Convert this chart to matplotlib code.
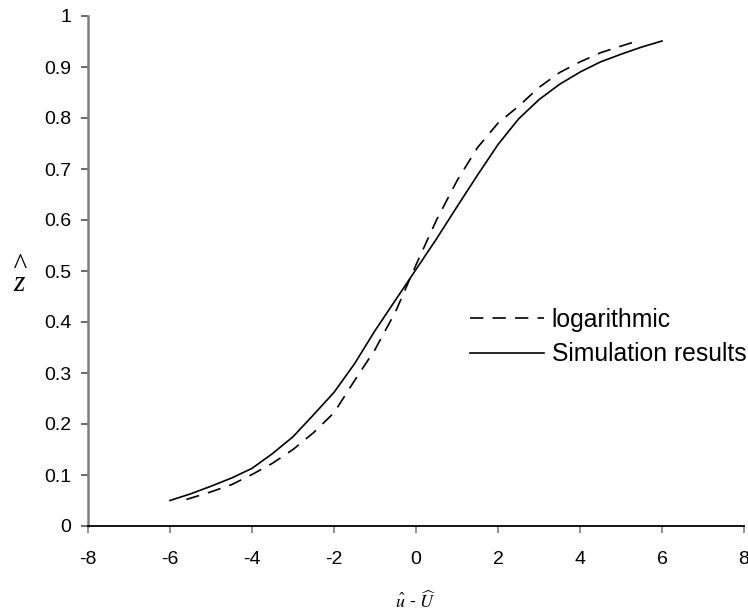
import matplotlib
matplotlib.use("Agg")
import matplotlib.pyplot as plt

# ─────────────────────────────────────
# DATA
# ─────────────────────────────────────
sim_x = [-6.0, -5.5, -5.0, -4.5, -4.0, -3.5, -3.0, -2.5, -2.0, -1.5, -1.0, -0.5,
         0.0, 0.5, 1.0, 1.5, 2.0, 2.5, 3.0, 3.5, 4.0, 4.5, 5.0, 5.5, 6.0]
sim_y = [0.050, 0.063, 0.078, 0.094, 0.113, 0.142, 0.175, 0.218, 0.262, 0.318, 0.383, 0.443,
         0.503, 0.563, 0.626, 0.688, 0.748, 0.798, 0.836, 0.866, 0.890, 0.910, 0.925, 0.939, 0.951]

log_x = [-5.6, -5.0, -4.5, -4.0, -3.5, -3.0, -2.5, -2.0, -1.5, -1.0, -0.5,
         0.0, 0.5, 1.0, 1.5, 2.0, 2.5, 3.0, 3.5, 4.0, 4.5, 5.0, 5.4]
log_y = [0.052, 0.067, 0.081, 0.101, 0.123, 0.150, 0.183, 0.222, 0.285, 0.346, 0.420,
         0.512, 0.600, 0.677, 0.742, 0.790, 0.823, 0.860, 0.889, 0.910, 0.928, 0.941, 0.951]

x_ticks = [-8, -6, -4, -2, 0, 2, 4, 6, 8]
y_ticks = [0, 0.1, 0.2, 0.3, 0.4, 0.5, 0.6, 0.7, 0.8, 0.9, 1]
y_tick_labels = ["0", "0.1", "0.2", "0.3", "0.4", "0.5", "0.6", "0.7", "0.8", "0.9", "1"]

# ─────────────────────────────────────
# STYLE
# ─────────────────────────────────────
plt.rcParams["font.family"] = ["Liberation Sans", "DejaVu Sans"]
plt.rcParams["font.size"] = 14
plt.rcParams["axes.unicode_minus"] = False
plt.rcParams["mathtext.fontset"] = "stix"

fig = plt.figure(figsize=(7.48, 6.13), dpi=100)
ax = fig.add_axes([88 / 748, 1 - 526 / 613, 656 / 748, 510 / 613])

ax.plot(log_x, log_y, color="black", lw=1.2, linestyle=(0, (8, 5.5)), label="logarithmic")
ax.plot(sim_x, sim_y, color="black", lw=1.2, label="Simulation results")

ax.set_xlim(-8, 8)
ax.set_ylim(0, 1)
ax.set_xticks(x_ticks)
ax.set_xticklabels([str(t) for t in x_ticks])
ax.set_yticks(y_ticks)
ax.set_yticklabels(y_tick_labels)
ax.tick_params(axis="x", direction="out", length=5, width=1.2, color="#808080",
               labelcolor="black", pad=13, labelsize=14)
ax.tick_params(axis="y", direction="out", length=5, width=1.2, color="#505050",
               labelcolor="black", pad=7, labelsize=14)

for side in ["top", "right"]:
    ax.spines[side].set_visible(False)
ax.spines["left"].set_color("#808080")
ax.spines["left"].set_linewidth(1.8)
ax.spines["bottom"].set_color("black")
ax.spines["bottom"].set_linewidth(1.3)

# axis labels
ax.set_xlabel(r"$\hat{u}$ - $\widehat{U}$", fontsize=13)
ax.xaxis.set_label_coords(0.5, (526 - 591) / 510)

# y label: a hat sitting well above an italic z (one text, two lines)
fig.text(19 / 748, 1 - 297 / 613, "^\nz", fontsize=21, family="Liberation Serif",
         style="italic", ha="center", va="bottom", multialignment="center",
         linespacing=0.56)

ax.legend(loc="center left", bbox_to_anchor=((470 - 88) / 656, (526 - 337) / 510),
          frameon=False, borderaxespad=0, borderpad=0, handlelength=3.0,
          handletextpad=0.3, labelspacing=0.42, fontsize=17.8)

plt.savefig("out.png", dpi=100)
